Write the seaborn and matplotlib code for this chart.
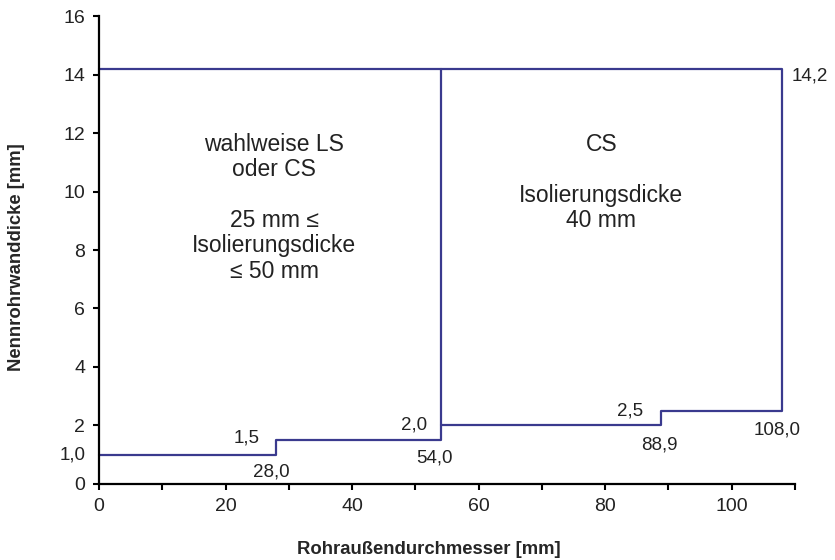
import matplotlib
matplotlib.use("Agg")
import matplotlib.pyplot as plt
import seaborn as sns
import pandas as pd

# Data: boundary outlines
seg_lower_x = [0, 28.0, 28.0, 54.0, 54.0]
seg_lower_y = [1.0, 1.0, 1.5, 1.5, 14.2]
seg_upper_x = [54.0, 88.9, 88.9, 108.0, 108.0, 0]
seg_upper_y = [2.0, 2.0, 2.5, 2.5, 14.2, 14.2]

value_labels = ["1,0", "1,5", "28,0", "2,0", "54,0", "2,5", "88,9", "108,0", "14,2"]
x_ticks = [0, 20, 40, 60, 80, 100]
y_ticks = [0, 2, 4, 6, 8, 10, 12, 14, 16]

sns.set_theme(style="ticks")
plt.rcParams["font.family"] = ["Liberation Sans", "DejaVu Sans"]

df = pd.DataFrame({
    "x": seg_lower_x + seg_upper_x,
    "y": seg_lower_y + seg_upper_y,
    "seg": [0] * len(seg_lower_x) + [1] * len(seg_upper_x),
})

fig = plt.figure(figsize=(8.35, 5.6), dpi=100)
ax = fig.add_axes([0.1186, 0.136, 0.952 - 0.1186, 0.971 - 0.136])
color = "#3a3a8e"
sns.lineplot(data=df, x="x", y="y", units="seg", estimator=None, sort=False,
             color=color, linewidth=1.6, ax=ax, legend=False)
for l in ax.lines:
    l.set_clip_on(False)

ax.set_xlim(0, 110)
ax.set_ylim(0, 16)
ax.set_xticks(x_ticks)
ax.set_xticks([10, 30, 50, 70, 90, 110], minor=True)
ax.set_yticks(y_ticks)
ax.tick_params(axis="both", which="both", direction="out", length=4, width=1.5,
               labelsize=14, pad=6, color="black", labelcolor="#222222")
for s in ["top", "right"]:
    ax.spines[s].set_visible(False)
for s in ["left", "bottom"]:
    ax.spines[s].set_linewidth(1.6)
    ax.spines[s].set_color("black")

ax.set_xlabel("Rohraußendurchmesser [mm]", fontsize=13.3, fontweight="bold")
ax.set_ylabel("Nennrohrwanddicke [mm]", fontsize=13.3, fontweight="bold")
ax.xaxis.set_label_coords(0.474, -0.122)
ax.yaxis.set_label_coords(-0.106, 0.485)

tc = "#222222"
fs = 13.5
ax.annotate(value_labels[0], xy=(0, 1.0), xytext=(-10, 0), textcoords="offset points",
            ha="right", va="center", fontsize=fs, color=tc, annotation_clip=False)
pos = [(23.4, 1.56), (27.3, 0.41), (49.8, 2.03), (53.0, 0.87),
       (84.0, 2.5), (88.5, 1.33), (107.2, 1.85), (112.3, 13.95)]
for lab, (px, py) in zip(value_labels[1:], pos):
    ax.text(px, py, lab, ha="center", va="center", fontsize=fs, color=tc, clip_on=False)

ax.text(27.7, 9.45, "wahlweise LS\noder CS\n\n25 mm ≤\nIsolierungsdicke\n≤ 50 mm",
        ha="center", va="center", fontsize=16.5, color=tc, linespacing=1.13)
ax.text(79.4, 10.3, "CS\n\nIsolierungsdicke\n40 mm",
        ha="center", va="center", fontsize=16.5, color=tc, linespacing=1.13)

fig.savefig("out.png", dpi=100)
